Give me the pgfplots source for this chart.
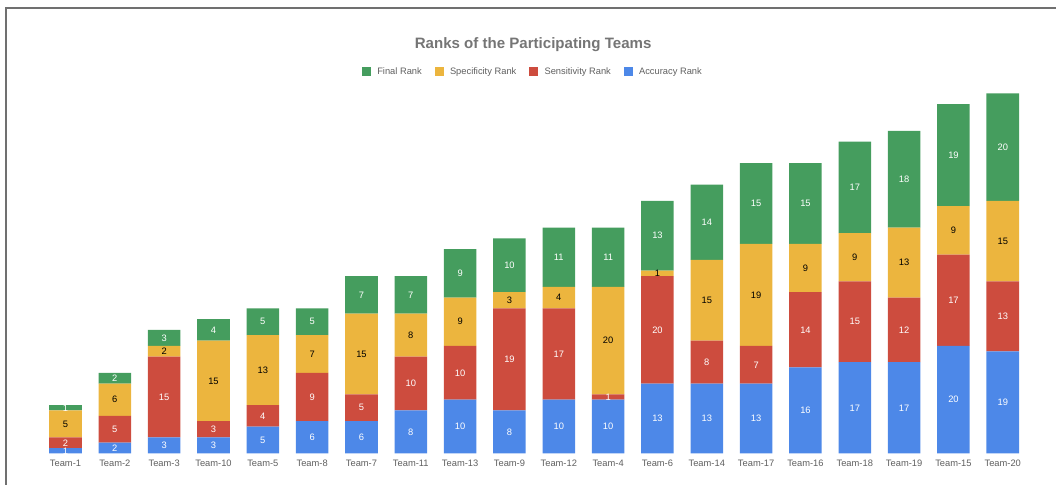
\documentclass[border=0pt]{standalone}
\usepackage{pgfplots}
\pgfplotsset{compat=1.18}
\usepackage{pgfplotstable}
\usepackage{fontspec}
\setmainfont{Liberation Sans}
\definecolor{cfin}{HTML}{459D5E}
\definecolor{cspec}{HTML}{ECB53E}
\definecolor{csens}{HTML}{CD4C3E}
\definecolor{cacc}{HTML}{4D88E8}
\definecolor{ctxt}{HTML}{5F5F5F}
\definecolor{ctitle}{HTML}{757575}
\definecolor{cborder}{HTML}{707070}
\pgfplotstableread{
x acc sens spec fin
0 1 2 5 1
1 2 5 6 2
2 3 15 2 3
3 3 3 15 4
4 5 4 13 5
5 6 9 7 5
6 6 5 15 7
7 8 10 8 7
8 10 10 9 9
9 8 19 3 10
10 10 17 4 11
11 10 1 20 11
12 13 20 1 13
13 13 8 15 14
14 13 7 19 15
15 16 14 9 15
16 17 15 9 17
17 17 12 13 18
18 20 17 9 19
19 19 13 15 20
}\ranks
\pgfplotsset{
  common/.style={
    scale only axis, width=739.95pt, height=282.24pt,
    at={(30.62pt,23.625pt)}, anchor=south west,
    xmin=-0.5, xmax=19.5, ymin=0, ymax=70,
  },
  sqlegend/.style={legend image code/.code={\fill[##1] (0pt,-3.4pt) rectangle (6.8pt,3.4pt); \path (9.6pt,0pt);}},
}
\begin{document}
\begin{tikzpicture}
\path[use as bounding box] (0,0) rectangle (792pt,363.75pt);
\draw[line width=1.1pt, cborder] (4.5pt,0pt) -- (4.5pt,357.75pt) -- (792pt,357.75pt);
\begin{axis}[common, ybar stacked, bar width=0.66,
  axis y line=none, axis x line*=bottom, x axis line style={draw=none},
  xtick=data, major tick length=0pt,
  xticklabels={Team-1,Team-2,Team-3,Team-10,Team-5,Team-8,Team-7,Team-11,Team-13,Team-9,Team-12,Team-4,Team-6,Team-14,Team-17,Team-16,Team-18,Team-19,Team-15,Team-20},
  xticklabel style={font=\fontsize{7}{8}\selectfont, text=ctxt, yshift=-1.5pt},
  reverse legend, legend columns=4,
  legend style={at={(0.499,1.014)}, anchor=center, draw=none, fill=none,
    font=\fontsize{7}{8}\selectfont, text=ctxt,
    /tikz/every even column/.append style={column sep=7.5pt}},
  title={Ranks of the Participating Teams},
  title style={at={(0.499,1.064)}, anchor=center, font=\bfseries\fontsize{11.3}{13}\selectfont, text=ctitle},
]
\addplot[fill=cacc, draw=none, sqlegend] table[x=x,y=acc]{\ranks};
\addlegendentry{Accuracy Rank}
\addplot[fill=csens, draw=none, sqlegend] table[x=x,y=sens]{\ranks};
\addlegendentry{Sensitivity Rank}
\addplot[fill=cspec, draw=none, sqlegend] table[x=x,y=spec]{\ranks};
\addlegendentry{Specificity Rank}
\addplot[fill=cfin, draw=none, sqlegend] table[x=x,y=fin]{\ranks};
\addlegendentry{Final Rank}
\end{axis}
\begin{axis}[common, hide axis, nodes near coords, point meta=explicit,
  /pgf/number format/assume math mode=true,
  every node near coord/.append style={anchor=center, font=\fontsize{7}{8}\selectfont}]
\addplot[draw=none, mark=none, every node near coord/.append style={text=white}] table[x=x, y expr=\thisrow{acc}/2, meta=acc]{\ranks};
\addplot[draw=none, mark=none, every node near coord/.append style={text=white}] table[x=x, y expr=\thisrow{acc}+\thisrow{sens}/2, meta=sens]{\ranks};
\addplot[draw=none, mark=none, every node near coord/.append style={text=black}] table[x=x, y expr=\thisrow{acc}+\thisrow{sens}+\thisrow{spec}/2, meta=spec]{\ranks};
\addplot[draw=none, mark=none, every node near coord/.append style={text=white}] table[x=x, y expr=\thisrow{acc}+\thisrow{sens}+\thisrow{spec}+\thisrow{fin}/2, meta=fin]{\ranks};
\end{axis}
\end{tikzpicture}
\end{document}
